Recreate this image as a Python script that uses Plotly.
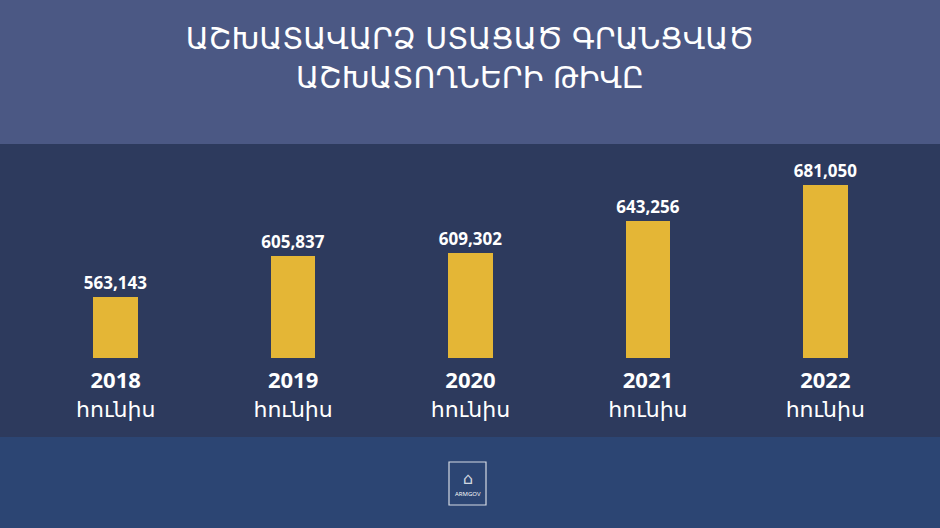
import plotly.graph_objects as go

# Data
years = ["2018", "2019", "2020", "2021", "2022"]
month = "հունիս"
employees = [563143, 605837, 609302, 643256, 681050]

title_lines = ["ԱՇԽԱՏԱՎԱՐՁ ՍՏԱՑԱԾ ԳՐԱՆՑՎԱԾ", "ԱՇԽԱՏՈՂՆԵՐԻ ԹԻՎԸ"]

# Colours
top_bg = "#4b5884"
band_bg = "#2d3a5d"
bottom_bg = "#2c4573"
bar_color = "#E4B636"

font_num = "Open Sans, DejaVu Sans, sans-serif"
font_arm = "DejaVu Sans, Noto Sans, sans-serif"

fig = go.Figure()

fig.add_trace(go.Bar(
    x=years,
    y=employees,
    marker=dict(color=bar_color, line=dict(width=0)),
    width=0.252,
    texttemplate="%{y:,}",
    textposition="outside",
    constraintext="none",
    textfont=dict(family=font_num, size=17, color="white", weight="bold"),
    cliponaxis=False,
    hoverinfo="skip",
))

fig.update_layout(
    width=940,
    height=528,
    margin=dict(l=27, r=26, t=148, b=170),
    paper_bgcolor=top_bg,
    plot_bgcolor="rgba(0,0,0,0)",
    showlegend=False,
    bargap=0,
    title=dict(
        text="<br>".join(title_lines),
        x=0.5, xanchor="center",
        y=0.907, yanchor="middle",
        font=dict(family=font_arm, size=30, color="white"),
    ),
    xaxis=dict(
        tickvals=years,
        ticktext=[f"<b>{y}</b><br>{month}" for y in years],
        tickfont=dict(family=font_num, size=22, color="white"),
        showgrid=False, zeroline=False, showline=False, ticks="",
        ticklabelstandoff=7,
    ),
    yaxis=dict(
        range=[499000, 720000],
        visible=False,
        showgrid=False,
    ),
)

# bands drawn in paper coordinates (y from bottom of plot area)
plot_h = 528 - 148 - 170
band_top = (528 - 170 - 144) / plot_h
band_bottom = (528 - 170 - 437) / plot_h
logo_y0 = (528 - 170 - 505) / plot_h
logo_y1 = (528 - 170 - 462) / plot_h
plot_w = 940 - 27 - 26
logo_x0 = (449 - 27) / plot_w
logo_x1 = (486 - 27) / plot_w

fig.update_layout(shapes=[
    dict(type="rect", xref="paper", yref="paper", x0=-0.05, x1=1.05,
         y0=band_bottom, y1=band_top, fillcolor=band_bg,
         line=dict(width=0), layer="below"),
    dict(type="rect", xref="paper", yref="paper", x0=-0.05, x1=1.05,
         y0=-1, y1=band_bottom, fillcolor=bottom_bg,
         line=dict(width=0), layer="below"),
    dict(type="rect", xref="paper", yref="paper", x0=logo_x0, x1=logo_x1,
         y0=logo_y0, y1=logo_y1, fillcolor="rgba(0,0,0,0)",
         line=dict(color="rgba(255,255,255,0.8)", width=1.2)),
])

fig.add_annotation(
    text="ARMGOV", xref="paper", yref="paper",
    x=(logo_x0 + logo_x1) / 2, y=logo_y0 + 0.025,
    showarrow=False, yanchor="bottom",
    font=dict(family=font_num, size=6, color="white"),
)
fig.add_annotation(
    text="⌂", xref="paper", yref="paper",
    x=(logo_x0 + logo_x1) / 2, y=logo_y0 + 0.07,
    showarrow=False, yanchor="bottom",
    font=dict(family="DejaVu Sans", size=16, color="rgba(255,255,255,0.8)"),
)

# drop the default page margin so the figure sits at the window corner
fig.write_html("out.html", config={"displayModeBar": False},
               post_script="document.body.style.margin='0';")
